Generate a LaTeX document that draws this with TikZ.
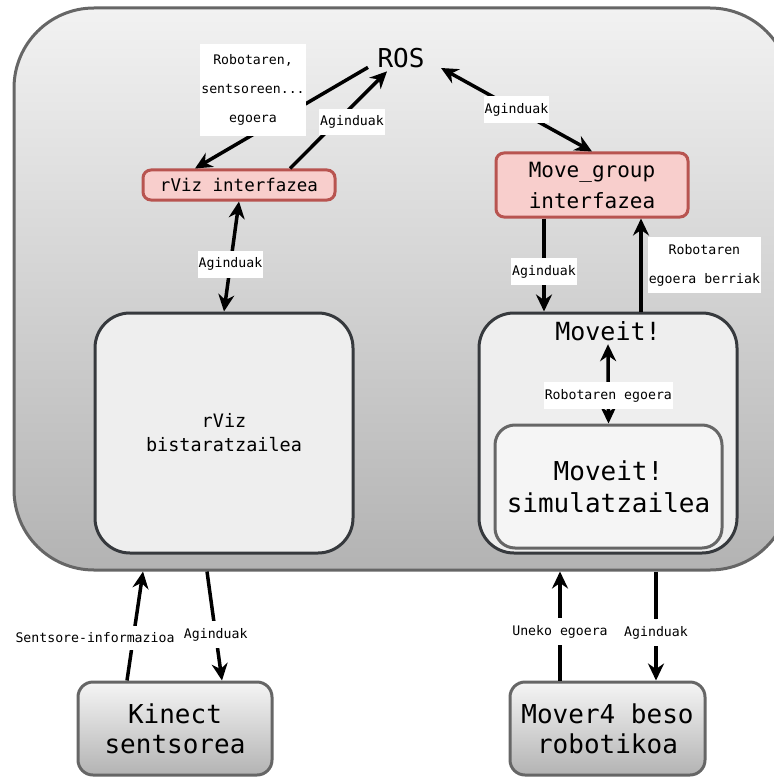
\documentclass[tikz,border=0pt]{standalone}
\usepackage{fontspec}
\setmonofont{DejaVu Sans Mono}
\usetikzlibrary{arrows.meta,positioning}
\definecolor{envline}{HTML}{666666}
\definecolor{envtop}{HTML}{F2F2F2}
\definecolor{envbottom}{HTML}{B3B3B3}
\definecolor{ifacefill}{HTML}{F8CECC}
\definecolor{ifaceline}{HTML}{B85450}
\definecolor{blockfill}{HTML}{EEEEEE}
\definecolor{blockline}{HTML}{36393D}
\definecolor{simfill}{HTML}{F5F5F5}
\tikzset{
    env/.style={
        draw=envline,
        line width=3pt,
        rounded corners=80pt,
        top color=envtop,
        bottom color=envbottom,
        inner sep=0pt
    },
    iface/.style={
        draw=ifaceline,
        fill=ifacefill,
        line width=3pt,
        rounded corners=8pt,
        align=center,
        inner sep=0pt
    },
    block/.style={
        draw=blockline,
        fill=blockfill,
        line width=3pt,
        rounded corners=35pt,
        align=center,
        inner sep=0pt
    },
    simbox/.style={
        draw=envline,
        fill=simfill,
        line width=3pt,
        rounded corners=20pt,
        align=center,
        inner sep=0pt
    },
    device/.style={
        draw=envline,
        line width=3pt,
        rounded corners=15pt,
        top color=simfill,
        bottom color=envbottom,
        align=center,
        inner sep=0pt,
        font=\ttfamily\fontsize{26}{30}\selectfont
    },
    lbl/.style={
        fill=white,
        inner xsep=1pt,
        inner ysep=7pt,
        align=center,
        font=\ttfamily\fontsize{13.2}{29}\selectfont
    },
    arr/.style={
        line width=3.5pt,
        -{Stealth[length=17pt,width=16pt]}
    },
    biarr/.style={
        line width=3.5pt,
        {Stealth[length=17pt,width=16pt]}-{Stealth[length=17pt,width=16pt]}
    }
}

\begin{document}
\begin{tikzpicture}[x=1pt,y=-1pt]
\useasboundingbox (0,0) rectangle (773,778);
% ROS environment
\node[env,minimum width=776pt,minimum height=562pt] (env) at (402,289) {};
\node[font=\ttfamily\fontsize{26}{30}\selectfont] (ros) at (401,58) {ROS};
\node[iface,minimum width=192pt,minimum height=30pt,font=\ttfamily\fontsize{17.5}{20}\selectfont] (rvizi) at (239,185) {rViz interfazea};
\node[iface,minimum width=192pt,minimum height=64pt,font=\ttfamily\fontsize{21}{31}\selectfont] (mgi) at (592,185) {Move\_group\\interfazea};
\node[block,minimum width=258pt,minimum height=240pt,font=\ttfamily\fontsize{18.5}{24}\selectfont] (rvizb) at (224,433) {rViz\\bistaratzailea};
\node[block,minimum width=258pt,minimum height=240pt] (moveit) at (608,433) {};
\node[font=\ttfamily\fontsize{25}{30}\selectfont] (moveitt) at (608,331) {Moveit!};
\node[simbox,minimum width=227pt,minimum height=123pt,font=\ttfamily\fontsize{26}{32}\selectfont] (sim) at (608.5,486.5) {Moveit!\\simulatzailea};
% hardware
\node[device,minimum width=194pt,minimum height=93pt] (kinect) at (175,728.5) {Kinect\\sentsorea};
\node[device,minimum width=195pt,minimum height=93pt] (mover) at (607.5,728.5) {Mover4 beso\\robotikoa};

\path[arr]
  ([xshift=-6pt,yshift=4pt]ros.south west) edge ([xshift=-44pt]rvizi.north)
  ([xshift=51pt]rvizi.north) edge ([xshift=-14pt]ros.south);
\node[lbl,minimum width=103pt,minimum height=92pt] (lblstate) at (253,90) {Robotaren,\\sentsoreen...\\egoera};
\node[lbl] (lblcmd) at (352,122) {Aginduak};
\path[biarr]
  ([xshift=13pt,yshift=-10pt]ros.east) edge node[lbl] {Aginduak} (mgi.north)
  (rvizi.south) edge node[lbl,pos=0.57] {Aginduak} (rvizb.north)
  (moveitt.south) edge node[lbl,pos=0.65] {Robotaren egoera} (sim.north);
\path[arr]
  ([xshift=-48pt]mgi.south) edge node[lbl,pos=0.57] {Aginduak} ([xshift=-64pt]moveit.north)
  ([xshift=33pt]moveit.north) edge node[lbl,midway,anchor=west,xshift=5pt] {Robotaren\\egoera berriak} ([xshift=49pt]mgi.south);
\path[arr]
  ([xshift=-48pt]kinect.north) edge ([xshift=-259pt]env.south)
  ([xshift=-195pt]env.south) edge node[lbl,pos=0.58] {Aginduak} ([xshift=47pt]kinect.north)
  ([xshift=-47.5pt]mover.north) edge node[lbl,pos=0.45] {Uneko egoera} ([xshift=158pt]env.south)
  ([xshift=254pt]env.south) edge node[lbl,pos=0.56] {Aginduak} ([xshift=48.5pt]mover.north);
\node[lbl] (lblsensor) at (95,638) {Sentsore-informazioa};
\end{tikzpicture}
\end{document}
